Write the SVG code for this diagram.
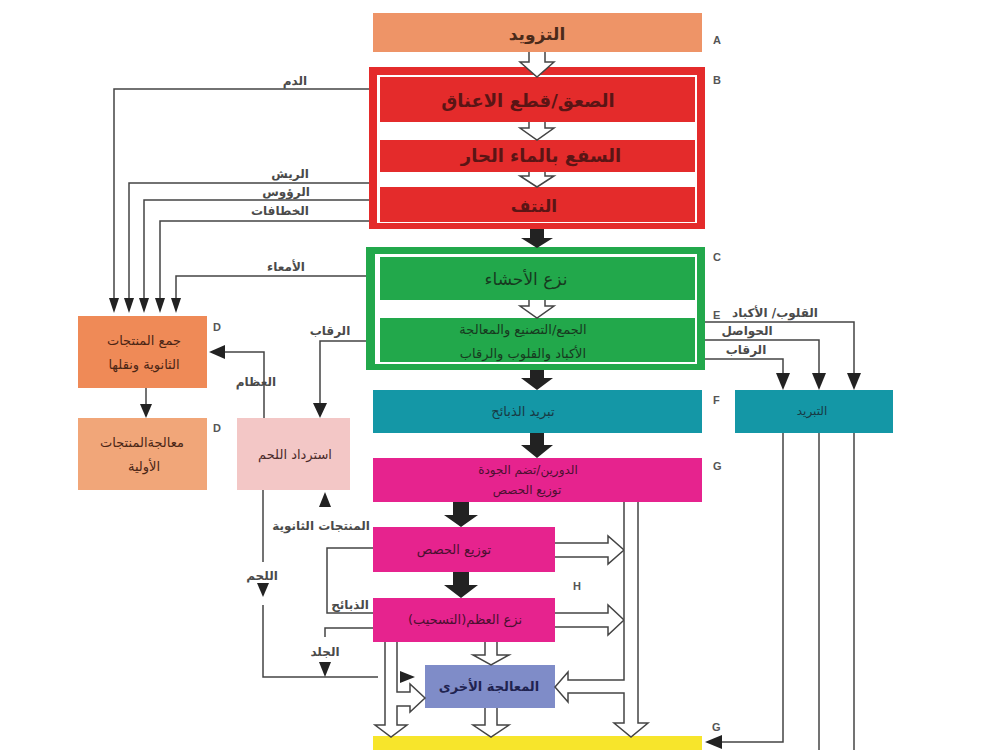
<svg xmlns="http://www.w3.org/2000/svg" width="1000" height="750" viewBox="0 0 1000 750">
<style>
text{font-family:'DejaVu Sans','Noto Sans',sans-serif;}
.box{text-anchor:middle;}
.b{font-weight:bold;}
.lbl{font-size:12px;font-weight:bold;fill:#4a4a4a;text-anchor:middle;}
.let{font-size:11px;font-weight:bold;fill:#555;font-family:'Liberation Sans',Arial,sans-serif;}
.ln{fill:none;stroke:#444;stroke-width:1.5;}
.hol{fill:#fff;stroke:#444;stroke-width:1.5;stroke-linejoin:miter;}
.blk{fill:#222;}
.tri{fill:#222;}
</style>
<rect width="1000" height="750" fill="#fff"/>

<g id="nodeA">
<rect x="373" y="13" width="329" height="39" fill="#EE9467"/>
<text class="box b" x="537" y="40" font-size="17" fill="#4a2a1a">التزويد</text>
</g>

<g id="nodeB">
<rect x="369" y="67" width="336" height="162" fill="#E42B2B"/>
<rect x="377" y="75" width="320" height="148" fill="#fff"/>
<rect x="380" y="77" width="315" height="45" fill="#E42B2B"/>
<rect x="380" y="140" width="315" height="32" fill="#E42B2B"/>
<rect x="380" y="187" width="315" height="35" fill="#E42B2B"/>
<text class="box b" x="528" y="107" font-size="18" fill="#5a1515">الصعق/قطع الاعناق</text>
<text class="box b" x="541" y="162" font-size="18" fill="#5a1515">السفع بالماء الحار</text>
<text class="box b" x="534" y="212" font-size="17" fill="#5a1515">النتف</text>
</g>

<g id="nodeC">
<rect x="366" y="247" width="339" height="123" fill="#22A84B"/>
<rect x="375" y="254" width="322" height="110" fill="#fff"/>
<rect x="380" y="257" width="315" height="43" fill="#22A84B"/>
<rect x="380" y="318" width="315" height="44" fill="#22A84B"/>
<text class="box" x="526" y="285" font-size="17" fill="#173a1f">نزع الأحشاء</text>
<text class="box" x="523" y="334" font-size="13" fill="#173a1f">الجمع/التصنيع والمعالجة</text>
<text class="box" x="523" y="358" font-size="13" fill="#173a1f">الأكباد والقلوب والرقاب</text>
</g>

<g id="nodeF">
<rect x="373" y="390" width="329" height="43" fill="#1497A6"/>
<text class="box" x="523" y="416" font-size="13" fill="#183a44">تبريد الذبائح</text>
</g>

<g id="nodeG">
<rect x="373" y="458" width="329" height="44" fill="#E6238E"/>
<text class="box" x="528" y="474" font-size="12" fill="#4a1030">الدورين/تضم الجودة</text>
<text class="box" x="527" y="494" font-size="12" fill="#4a1030">توزيع الحصص</text>
</g>

<g id="nodeG2">
<rect x="373" y="527" width="182" height="45" fill="#E6238E"/>
<text class="box" x="454" y="554" font-size="13" fill="#4a1030">توزيع الحصص</text>
</g>

<g id="nodeH">
<rect x="373" y="598" width="182" height="44" fill="#E6238E"/>
<text class="box" x="465" y="624" font-size="13" fill="#4a1030">نزع العظم(التسحيب)</text>
</g>

<g id="nodeOther">
<rect x="425" y="665" width="130" height="43" fill="#7F8CC8"/>
<text class="box b" x="489" y="691" font-size="13" fill="#1f2350">المعالجة الأخرى</text>
</g>

<g id="nodeY">
<rect x="373" y="736" width="329" height="20" fill="#F7E52B"/>
</g>

<g id="nodeD1">
<rect x="78" y="316" width="129" height="72" fill="#EF8A57"/>
<text class="box" x="144" y="345" font-size="13" fill="#4a2515">جمع المنتجات</text>
<text class="box" x="144" y="369" font-size="13" fill="#4a2515">الثانوية ونقلها</text>
</g>

<g id="nodeD2">
<rect x="78" y="418" width="129" height="72" fill="#F1A679"/>
<text class="box" x="142" y="447" font-size="13" fill="#4a2515">معالجةالمنتجات</text>
<text class="box" x="144" y="471" font-size="13" fill="#4a2515">الأولية</text>
</g>

<g id="nodeMeat">
<rect x="237" y="418" width="113" height="72" fill="#F3C7C6"/>
<text class="box" x="295" y="459" font-size="13" fill="#4a2a2a">استرداد اللحم</text>
</g>

<g id="nodeCool">
<rect x="735" y="390" width="158" height="43" fill="#1497A6"/>
<text class="box" x="812" y="415" font-size="12" fill="#183a44">التبريد</text>
</g>

<g id="letters">
<text class="let" x="713" y="44">A</text>
<text class="let" x="713" y="84">B</text>
<text class="let" x="713" y="261">C</text>
<text class="let" x="713" y="319">E</text>
<text class="let" x="713" y="404">F</text>
<text class="let" x="713" y="470">G</text>
<text class="let" x="573" y="590">H</text>
<text class="let" x="712" y="731">G</text>
<text class="let" x="213" y="331">D</text>
<text class="let" x="213" y="432">D</text>
</g>

<g id="connectors">
<path class="hol" d="M529,52 L529,62 L520,62 L537,77 L554,62 L545,62 L545,52"/>
<path class="hol" d="M529,122 L529,128 L520,128 L537,140 L554,128 L545,128 L545,122"/>
<path class="hol" d="M529,172 L529,176 L520,176 L537,187 L554,176 L545,176 L545,172"/>
<path class="hol" d="M529,300 L529,306 L520,306 L537,318 L554,306 L545,306 L545,300"/>
<path class="blk" d="M530,229 L530,238 L521,238 L537,248 L553,238 L544,238 L544,229 Z"/>
<path class="blk" d="M530,370 L530,378 L521,378 L537,390 L553,378 L544,378 L544,370 Z"/>
<path class="blk" d="M530,433 L530,445 L521,445 L537,458 L553,445 L544,445 L544,433 Z"/>
<path class="blk" d="M453,502 L453,515 L444,515 L461,527 L478,515 L469,515 L469,502 Z"/>
<path class="blk" d="M453,572 L453,585 L444,585 L461,598 L478,585 L469,585 L469,572 Z"/>

<path class="hol" d="M555,543 L608,543 L608,536 L624,550 L608,564 L608,557 L555,557"/>
<path class="hol" d="M555,613 L608,613 L608,605 L624,620 L608,635 L608,627 L555,627"/>
<path class="hol" d="M624,502 L624,680 L568,680 L568,672 L555,687 L568,702 L568,693 L624,693 L624,723 L614,723 L631,737 L648,723 L638,723 L638,502"/>
<path class="hol" d="M397,642 L397,692 L410,692 L410,684 L425,698 L410,712 L410,706 L397,706 L397,725 L407,725 L391,737 L375,725 L385,725 L385,642"/>
<path class="hol" d="M485,642 L485,655 L473,655 L491,665 L509,655 L497,655 L497,642"/>
<path class="hol" d="M485,708 L485,725 L473,725 L491,737 L509,725 L497,725 L497,708"/>

<path class="ln" d="M369,89 L114,89 L114,299"/>
<path class="ln" d="M369,183 L129,183 L129,299"/>
<path class="ln" d="M369,200 L144,200 L144,299"/>
<path class="ln" d="M369,221 L160,221 L160,299"/>
<path class="ln" d="M366,276 L176,276 L176,299"/>
<path class="tri" d="M109,298 L119,298 L114,313 Z"/>
<path class="tri" d="M124,298 L134,298 L129,313 Z"/>
<path class="tri" d="M139,298 L149,298 L144,313 Z"/>
<path class="tri" d="M155,298 L165,298 L160,313 Z"/>
<path class="tri" d="M171,298 L181,298 L176,313 Z"/>

<path class="ln" d="M146,388 L146,405"/>
<path class="tri" d="M140,404 L152,404 L146,418 Z"/>

<path class="ln" d="M264,418 L264,352 L224,352"/>
<path class="tri" d="M225,345 L225,359 L209,352 Z"/>
<path class="ln" d="M366,341 L320,341 L320,404"/>
<path class="tri" d="M313,403 L327,403 L320,418 Z"/>

<path class="ln" d="M263,490 L263,562"/>
<path class="tri" d="M257,583 L269,583 L263,597 Z"/>
<path class="ln" d="M263,605 L263,677 L378,677"/>
<path class="tri" d="M400,671 L415,677 L400,683 Z"/>
<path class="tri" d="M319,507 L331,507 L325,492 Z"/>
<path class="ln" d="M373,548 L327,548 L327,613 L373,613"/>
<path class="ln" d="M373,628 L325,628 L325,637"/>
<path class="tri" d="M319,662 L331,662 L325,677 Z"/>

<path class="ln" d="M705,322 L854,322 L854,374"/>
<path class="ln" d="M705,340 L819,340 L819,374"/>
<path class="ln" d="M705,359 L783,359 L783,374"/>
<path class="tri" d="M847,373 L861,373 L854,390 Z"/>
<path class="tri" d="M812,373 L826,373 L819,390 Z"/>
<path class="tri" d="M776,373 L790,373 L783,390 Z"/>
<path class="ln" d="M783,433 L783,742 L721,742"/>
<path class="tri" d="M722,735 L722,749 L705,742 Z"/>
<path class="ln" d="M819,433 L819,750"/>
<path class="ln" d="M854,433 L854,750"/>

<text class="lbl" x="295" y="85">الدم</text>
<text class="lbl" x="290" y="178">الريش</text>
<text class="lbl" x="286" y="196">الرؤوس</text>
<text class="lbl" x="280" y="215">الخطافات</text>
<text class="lbl" x="286" y="271">الأمعاء</text>
<text class="lbl" x="330" y="335">الرقاب</text>
<text class="lbl" x="256" y="386">العظام</text>
<text class="lbl" x="775" y="317">القلوب/ الأكباد</text>
<text class="lbl" x="747" y="335">الحواصل</text>
<text class="lbl" x="746" y="354">الرقاب</text>
<text class="lbl" x="321" y="530">المنتجات الثانوية</text>
<text class="lbl" x="350" y="609">الذبائح</text>
<text class="lbl" x="262" y="580">اللحم</text>
<text class="lbl" x="325" y="656">الجلد</text>
</g>
</svg>
